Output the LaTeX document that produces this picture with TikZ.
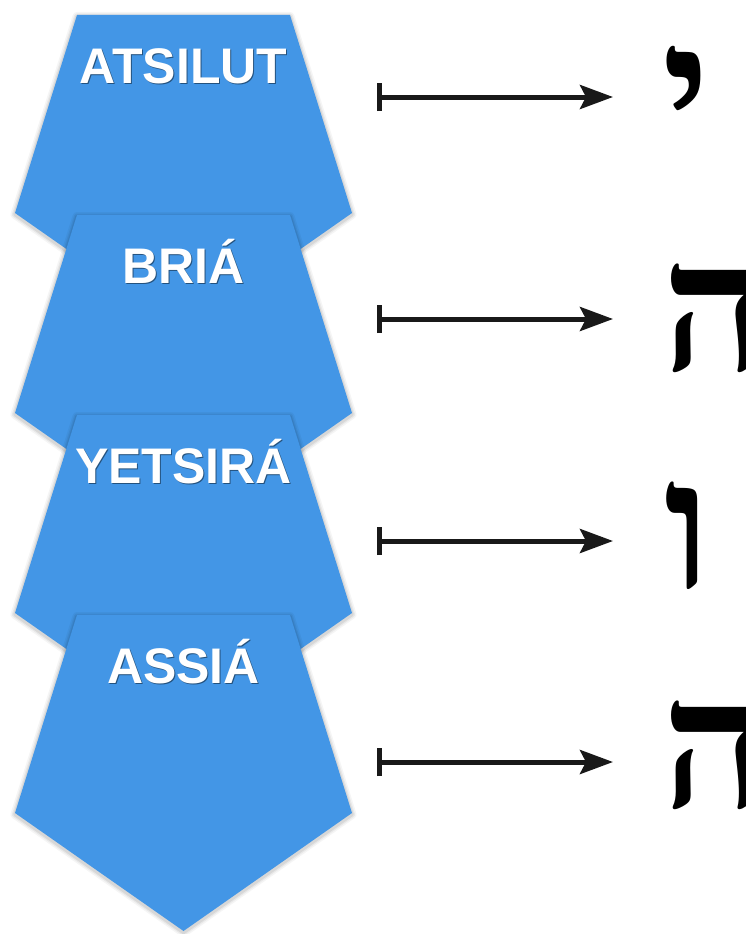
\documentclass[tikz,border=0pt]{standalone}
\usepackage{fontspec}
\setmainfont{Liberation Sans}
\newfontfamily\hebfont[Script=Hebrew]{Liberation Serif}
\usetikzlibrary{arrows.meta}
\definecolor{worldblue}{RGB}{67,150,230}
\tikzset{
  world/.style={fill=worldblue, draw=none},
  halo/.style={draw=black, line join=round, fill=none},
  lbl/.style={text=white, inner sep=0pt, anchor=base,
    font=\fontsize{50}{50}\selectfont\bfseries},
  lblshadow/.style={lbl, text=black, opacity=0.45},
  link/.style={line width=5pt, black!90,
    {Bar[width=28pt]}-{Stealth[length=33pt,width=24pt,inset=6pt]}},
  letter/.style={inner sep=0pt, anchor=base west,
    font=\hebfont\fontsize{181}{181}\selectfont\bfseries}
}
\begin{document}
\begin{tikzpicture}[x=1pt,y=-1pt]
\clip (0,0) rectangle (745,934);
\fill[white] (0,0) rectangle (745,934);
% the four worlds, lower ones drawn over upper ones
\foreach \t/\name/\txt in {15/w1/ATSILUT, 215/w2/BRIÁ, 415/w3/YETSIRÁ, 615/w4/ASSIÁ}{
  \foreach \w/\o in {9/0.04, 6/0.05, 3.5/0.07}{
    \path[halo, line width=\w pt, draw opacity=\o]
      (77,\t+1.5) -- (290,\t+1.5) -- (352,\t+199.5) -- (183.5,\t+317.5) -- (15,\t+199.5) -- cycle;
  }
  \path[world] (77,\t) -- (290,\t) -- (352,\t+198) -- (183.5,\t+316) -- (15,\t+198) -- cycle;
  \node[lblshadow] (\name s) at (184.5,\t+69.5) {\txt};
  \node[lbl] (\name) at (183.5,\t+68) {\txt};
}
% letters
\node[letter] (l1) at (662,152) {\char"05D9};
\node[letter] (l2) at (662,370) {\char"05D4};
\node[letter] (l3) at (664,588) {\char"05D5};
\node[letter] (l4) at (662,807) {\char"05D4};
% arrows
\foreach \i/\y in {1/97, 2/319, 3/541, 4/762}{
  \coordinate (a\i) at (377,\y);
  \coordinate (b\i) at (613,\y);
  \draw[link] (a\i) -- (b\i);
}
\end{tikzpicture}
\end{document}
